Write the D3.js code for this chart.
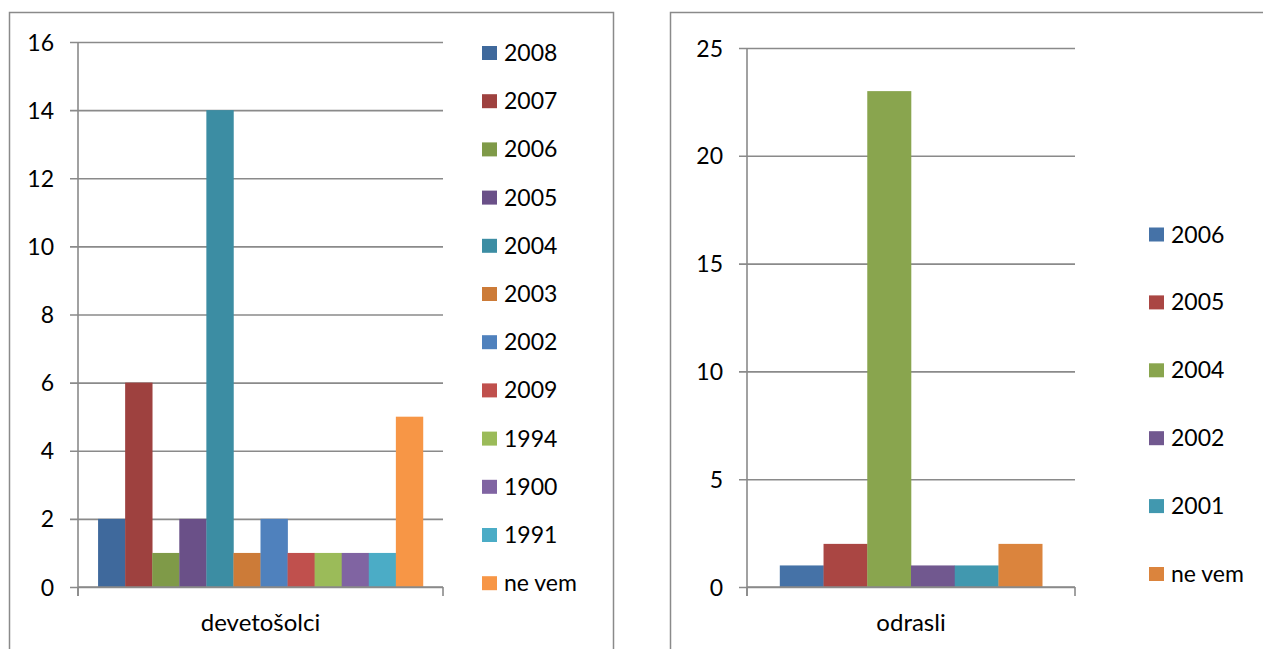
<!DOCTYPE html>
<html>
<head>
<meta charset="utf-8">
<script src="https://cdn.jsdelivr.net/npm/d3@7"></script>
<style>
  html, body { margin: 0; padding: 0; background: #fff; }
  svg { display: block; }
  text { font-family: Lato, "Open Sans", sans-serif; font-size: 23px; fill: #000; }
</style>
</head>
<body>
<svg id="chart" width="1263" height="649"></svg>
<script>
// ---- data ----
const leftCategory = ["devetošolci"];
const leftSeries = ["2008", "2007", "2006", "2005", "2004", "2003", "2002", "2009", "1994", "1900", "1991", "ne vem"];
const leftValues = [2, 6, 1, 2, 14, 1, 2, 1, 1, 1, 1, 5];
const leftTicks = [0, 2, 4, 6, 8, 10, 12, 14, 16];
const leftColors = ["#3F699C", "#9E413F", "#7F9A48", "#6A5088", "#3C8DA3", "#CC7B38",
                    "#4F81BD", "#C0504D", "#9BBB59", "#8064A2", "#4BACC6", "#F79646"];

const rightCategory = ["odrasli"];
const rightSeries = ["2006", "2005", "2004", "2002", "2001", "ne vem"];
const rightValues = [1, 2, 23, 1, 1, 2];
const rightTicks = [0, 5, 10, 15, 20, 25];
const rightColors = ["#4572A7", "#AA4643", "#89A54E", "#71588F", "#4198AF", "#DB843D"];

const svg = d3.select("#chart");
const lineColor = "#8A8A8A";

function drawChart(opt) {
  const g = svg.append("g");
  // outer frame
  g.append("rect")
    .attr("x", opt.frame[0] + 0.5).attr("y", opt.frame[1] + 0.5)
    .attr("width", opt.frame[2]).attr("height", opt.frame[3])
    .attr("fill", "#fff").attr("stroke", lineColor).attr("stroke-width", 1.5);

  const y = d3.scaleLinear().domain([0, d3.max(opt.ticks)]).range([opt.plot.bottom, opt.plot.top]);
  const x0 = d3.scaleBand().domain(opt.category)
    .range([opt.plot.left, opt.plot.right])
    .paddingInner(opt.pad).paddingOuter(opt.pad / 2);
  const x1 = d3.scaleBand().domain(opt.series).range([0, x0.bandwidth()]);

  const w = opt.plot.right - opt.plot.left;

  // y axis with gridlines
  const yAxis = d3.axisLeft(y).tickValues(opt.ticks).tickSizeInner(-w).tickSizeOuter(0).tickPadding(0);
  const ya = g.append("g").attr("transform", `translate(${opt.plot.left},0)`).call(yAxis);
  ya.select(".domain").remove();
  ya.selectAll(".tick line").attr("x1", -8).attr("x2", w)
    .attr("stroke", lineColor).attr("stroke-width", 1.6);
  ya.selectAll(".tick text").attr("x", -opt.labelGap).attr("dy", "0.35em")
    .style("font-family", "Lato, 'Open Sans', sans-serif").style("font-size", "23px").attr("fill", "#000");

  // vertical axis line
  g.append("line")
    .attr("x1", opt.plot.left).attr("x2", opt.plot.left)
    .attr("y1", opt.plot.top).attr("y2", opt.plot.bottom + 9)
    .attr("stroke", lineColor).attr("stroke-width", 1.6);

  // bars
  g.append("g").selectAll("rect")
    .data(opt.values.map((v, i) => ({ cat: opt.category[0], s: opt.series[i], v: v, c: opt.colors[i] })))
    .join("rect")
    .attr("x", d => x0(d.cat) + x1(d.s))
    .attr("width", x1.bandwidth() + 0.3)
    .attr("y", d => y(d.v))
    .attr("height", d => y(0) - y(d.v))
    .attr("fill", d => d.c);

  // x axis
  const xAxis = d3.axisBottom(x0).tickSize(0).tickPadding(0);
  const xa = g.append("g").attr("transform", `translate(0,${opt.plot.bottom})`).call(xAxis);
  xa.select(".domain").attr("stroke", lineColor).attr("stroke-width", 1.6)
    .attr("d", `M${opt.plot.left},0H${opt.plot.right}`);
  xa.selectAll(".tick text").attr("y", 36).attr("dy", "0.35em")
    .style("font-family", "Lato, 'Open Sans', sans-serif").style("font-size", "24px").attr("fill", "#000");
  // end tick marks
  [opt.plot.left, opt.plot.right].forEach(px => {
    g.append("line").attr("x1", px).attr("x2", px)
      .attr("y1", opt.plot.bottom).attr("y2", opt.plot.bottom + 9)
      .attr("stroke", lineColor).attr("stroke-width", 1.6);
  });

  // legend
  const lg = g.append("g");
  const items = lg.selectAll("g").data(opt.series).join("g")
    .attr("transform", (d, i) => `translate(${opt.legend.x},${opt.legend.y0 + i * opt.legend.step})`);
  items.append("rect").attr("x", 0).attr("y", -7).attr("width", 15).attr("height", 14)
    .attr("fill", (d, i) => opt.colors[i]);
  items.append("text").attr("x", 22).attr("y", 0).attr("dy", "0.35em").text(d => d);
}

drawChart({
  frame: [9, 12, 604, 700],
  plot: { left: 78, right: 443, top: 42, bottom: 587 },
  pad: 0.11,
  labelGap: 24,
  category: leftCategory, series: leftSeries, values: leftValues,
  ticks: leftTicks, colors: leftColors,
  legend: { x: 482, y0: 53, step: 48.2 }
});

drawChart({
  frame: [670, 12, 700, 700],
  plot: { left: 747, right: 1075, top: 48, bottom: 587 },
  pad: 0.20,
  labelGap: 24,
  category: rightCategory, series: rightSeries, values: rightValues,
  ticks: rightTicks, colors: rightColors,
  legend: { x: 1149, y0: 234.5, step: 67.9 }
});
</script>
</body>
</html>
